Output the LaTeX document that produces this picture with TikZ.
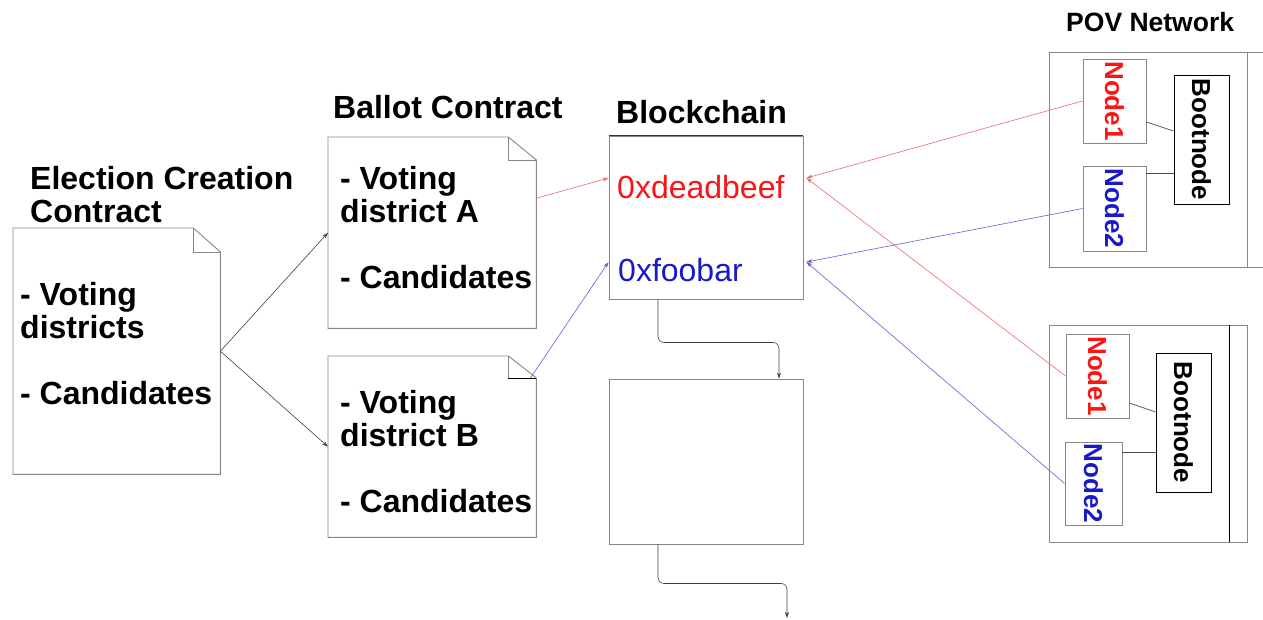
\documentclass[tikz,border=0pt]{standalone}
\usepackage{fontspec}
\setmainfont{Liberation Sans}
\usepackage{graphicx}
\usetikzlibrary{arrows.meta}
\definecolor{hashred}{RGB}{250,20,20}
\definecolor{hashblue}{RGB}{25,25,200}
\definecolor{linkred}{RGB}{235,105,105}
\definecolor{linkblue}{RGB}{95,95,215}
\definecolor{frame}{RGB}{135,135,135}
\tikzset{
  big/.style={font=\bfseries\fontsize{32}{33}\selectfont},
  docnode/.style={anchor=north west, inner sep=0pt},
  doctext/.style={big, anchor=west, align=left, inner sep=0pt},
  chainbox/.style={draw=frame, line width=0.9pt, minimum width=194pt, inner sep=0pt},
  hash/.style={font=\fontsize{32}{33}\selectfont, anchor=base west, inner sep=0pt},
  nodebox/.style={draw=frame, line width=0.9pt, inner sep=0pt, font=\bfseries\fontsize{26}{26}\selectfont},
  arr/.style={-{Stealth[length=6pt,width=4pt]}, line width=0.6pt},
  link/.style={line width=0.7pt, draw=black!70}
}
\begin{document}
\begin{tikzpicture}[x=1pt,y=-1pt]
    \useasboundingbox (0,0) rectangle (1263,619);
    % titles
    \node[big, anchor=north west, align=left, inner sep=0pt] (ecctitle) at (30,166.5) {Election Creation\\Contract};
    \node[big, anchor=base west, inner sep=0pt] (baltitle) at (333,118.5) {Ballot Contract};
    \node[big, anchor=base west, inner sep=0pt] (chaintitle) at (616,123.5) {Blockchain};
    \node[font=\bfseries\fontsize{26.5}{27}\selectfont, anchor=base west, inner sep=0pt] (povtitle) at (1066,31.5) {POV Network};
    % contracts
    \node[docnode, minimum width=207pt, minimum height=246pt] (ecc) at (13,228) {};
    \node[docnode, minimum width=208pt, minimum height=191pt] (balA) at (328,137) {};
    \node[docnode, minimum width=208pt, minimum height=181pt] (balB) at (328,356) {};
    \node[doctext] (ecclist) at ([xshift=7pt,yshift=8pt]ecc.west) {- Voting\\districts\\[33pt]- Candidates};
    \node[doctext] (balAlist) at ([xshift=12pt,yshift=5pt]balA.west) {- Voting\\district A\\[33pt]- Candidates};
    \node[doctext] (balBlist) at ([xshift=12pt,yshift=-4.5pt]balB.west) {- Voting\\district B\\[33pt]- Candidates};
    \foreach \d/\fw/\fh in {ecc/27pt/24pt, balA/28pt/23pt, balB/28pt/22pt}{
        \draw[frame, line width=0.9pt] (\d.north west) -- ([xshift=-\fw]\d.north east)
            -- ([yshift=-\fh]\d.north east) -- (\d.south east) -- (\d.south west) -- cycle;
        \draw[frame, line width=0.9pt] ([xshift=-\fw]\d.north east) |- ([yshift=-\fh]\d.north east);
    }
    \draw[black, line width=0.9pt] ([xshift=-28pt,yshift=-22pt]balB.north east) -- ([yshift=-22pt]balB.north east);
    % blockchain
    \node[chainbox, minimum height=163pt] (chain1) at (706,217.5) {};
    \node[chainbox, minimum height=165pt] (chain2) at (706,461.5) {};
    \draw[black!80, line width=0.9pt] (chain1.north west) -- (chain1.north east);
    \node[hash, text=hashred] (deadbeef) at (617,198.5) {0xdeadbeef};
    \node[hash, text=hashblue] (foobar) at (618,281.5) {0xfoobar};
    \coordinate (inRed) at ([yshift=39.5pt]chain1.west);
    \coordinate (inBlue) at ([yshift=-44.5pt]chain1.west);
    \coordinate (outRed) at ([xshift=3pt,yshift=39.5pt]chain1.east);
    \coordinate (outBlue) at ([xshift=3pt,yshift=-44.5pt]chain1.east);
    \coordinate (chainnext) at (787,618);
    \draw[arr, draw=black!75, rounded corners=6pt] ([xshift=-48pt]chain1.south) -- ++(0,43) -| ([xshift=73pt]chain2.north);
    \draw[arr, draw=black!75, rounded corners=6pt] ([xshift=-48pt]chain2.south) -- ++(0,39) -| (chainnext);
    % POV networks
    \draw[frame, line width=0.9pt] (1263,52) -| (1049,267) -- (1263,267);
    \draw[frame, line width=0.9pt] (1247,52) -- (1247,267);
    \draw[frame, line width=0.9pt] (1049,325) rectangle (1247,542);
    \draw[black, line width=0.9pt] (1229,325) -- (1229,542);
    \node[nodebox, minimum width=63pt, minimum height=84pt, text=hashred] (node1a) at (1114.5,101) {\rotatebox{-90}{Node1}};
    \node[nodebox, minimum width=63pt, minimum height=85pt, text=hashblue] (node2a) at (1114.5,208.5) {\rotatebox{-90}{Node2}};
    \node[nodebox, draw=black, minimum width=55pt, minimum height=129pt] (boota) at (1201.5,139.5) {\rotatebox{-90}{Bootnode}};
    \node[nodebox, minimum width=63pt, minimum height=84pt, text=hashred] (node1b) at (1097.5,376) {\rotatebox{-90}{Node1}};
    \node[nodebox, minimum width=57pt, minimum height=83pt, text=hashblue] (node2b) at (1093.5,483.5) {\rotatebox{-90}{Node2}};
    \node[nodebox, draw=black, minimum width=55pt, minimum height=139pt] (bootb) at (1183.5,422.5) {\rotatebox{-90}{Bootnode}};
    \draw[link] ([yshift=-21pt]node1a.east) -- ([yshift=8.5pt]boota.west);
    \draw[link] ([yshift=35.5pt]node2a.east) -- ([yshift=-33.5pt]boota.west);
    \draw[link] ([yshift=-27pt]node1b.east) -- ([yshift=10.5pt]bootb.west);
    \draw[link] ([yshift=31.5pt]node2b.east) -- ([yshift=-29.5pt]bootb.west);
    % links
    \draw[arr, draw=black!75] (ecc.east) -- (balA.west);
    \draw[arr, draw=black!75] (ecc.east) -- (balB.west);
    \draw[arr, draw=linkred] ([yshift=34.5pt]balA.east) -- (inRed);
    \draw[arr, draw=linkblue] ([xshift=-6pt,yshift=-22pt]balB.north east) -- (inBlue);
    \draw[arr, draw=linkred] (node1a.west) -- (outRed);
    \draw[arr, draw=linkred] (node1b.west) -- (outRed);
    \draw[arr, draw=linkblue] (node2a.west) -- (outBlue);
    \draw[arr, draw=linkblue] (node2b.west) -- (outBlue);
\end{tikzpicture}
\end{document}
